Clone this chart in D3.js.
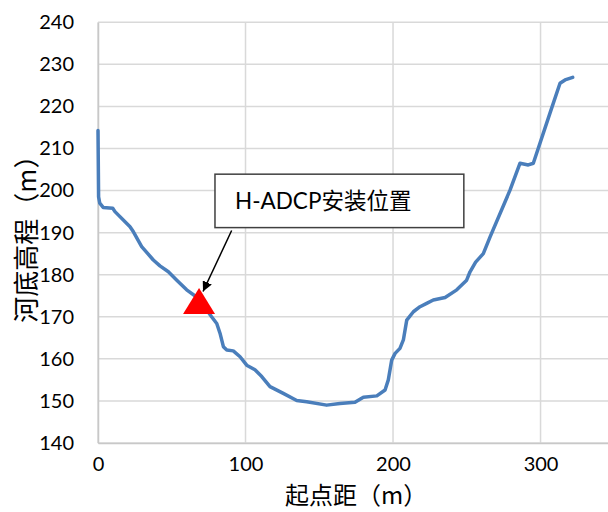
<!DOCTYPE html>
<html>
<head>
<meta charset="utf-8">
<script src="https://cdn.jsdelivr.net/npm/d3@7"></script>
<style>
  html, body { margin: 0; padding: 0; background: #fff; overflow: hidden; }
  svg { display: block; }
</style>
</head>
<body>
<svg id="chart" width="608" height="512"></svg>
<script>
// ---- data ----
const distance = [0, 0.4, 1.2, 3.5, 10, 11.5, 21.7, 24, 29.6, 37.5, 42, 47.7, 53.4, 60.1, 68,
  77, 80.5, 82.7, 85, 87.3, 91.7, 96.3, 100.8, 106.4, 111, 116.6, 125.6, 134.7, 141.5, 155,
  164, 174.2, 179.9, 189, 194.6, 196.8, 199.1, 201.4, 204.7, 207, 209.3, 213.8, 218.3, 222.8,
  227.3, 235.3, 243.2, 249.9, 252.2, 256, 261.2, 265.8, 279.3, 286.1, 291.7, 295.1, 306.4,
  313.2, 316.6, 321.8];
const elevation = [214.3, 198.5, 197.0, 196.0, 195.8, 195.0, 191.4, 190.2, 186.7, 183.5, 182.1,
  180.7, 178.7, 176.4, 174.4, 170.0, 168.4, 166.1, 162.9, 162.1, 161.9, 160.5, 158.5, 157.4,
  155.8, 153.4, 151.8, 150.1, 149.8, 149.0, 149.4, 149.7, 150.9, 151.2, 152.6, 155.0, 159.7,
  161.3, 162.5, 164.5, 169.2, 171.2, 172.4, 173.2, 174.0, 174.6, 176.4, 178.7, 180.7, 183.0,
  185.0, 189.0, 200.1, 206.5, 206.1, 206.5, 218.4, 225.5, 226.3, 226.9];
const markerPoint = [68.5, 172.7];           // H-ADCP position
const annotationText = "H-ADCP安装位置";
const annotationBox = [79.3, 203.9, 248, 191.2];   // x0, yTop, x1, yBottom (data units)
const annotationArrow = [90.6, 190.5, 71.2, 176.0]; // from (x,y) to (x,y)
const xTicks = [0, 100, 200, 300];
const yTicks = [140, 150, 160, 170, 180, 190, 200, 210, 220, 230, 240];
const xTitle = "起点距（m）";
const yTitle = "河底高程（m）";

// ---- layout ----
const svg = d3.select("#chart");
const mLeft = 98, mTop = 22.3, plotH = 420.7, plotW = 516.3;
const x = d3.scaleLinear().domain([0, 350]).range([mLeft, mLeft + plotW]);
const y = d3.scaleLinear().domain([140, 240]).range([mTop + plotH, mTop]);

const tickFont = "Lato, 'Noto Sans CJK SC', sans-serif";
const cjkFont = "'Noto Sans CJK SC', sans-serif";

// gridlines
const grid = svg.append("g");
grid.selectAll("line.h").data(yTicks).join("line")
  .attr("x1", x(0)).attr("x2", x(350))
  .attr("y1", d => y(d)).attr("y2", d => y(d))
  .attr("stroke", "#d9d9d9").attr("stroke-width", 1.5);
grid.selectAll("line.v").data(xTicks.concat([350])).join("line")
  .attr("x1", d => x(d)).attr("x2", d => x(d))
  .attr("y1", y(140)).attr("y2", y(240))
  .attr("stroke", "#d9d9d9").attr("stroke-width", 1.5);

// axes
const yAxis = svg.append("g").attr("transform", `translate(${x(0)},0)`)
  .call(d3.axisLeft(y).tickValues(yTicks).tickSize(0).tickPadding(24).tickFormat(d3.format("d")));
const xAxis = svg.append("g").attr("transform", `translate(0,${y(140)})`)
  .call(d3.axisBottom(x).tickValues(xTicks).tickSize(0).tickPadding(24).tickFormat(d3.format("d")));
[xAxis, yAxis].forEach(a => {
  a.select(".domain").attr("stroke", "#c8c8c8").attr("stroke-width", 1.5);
  a.selectAll("text").attr("font-family", tickFont).attr("font-size", 20).attr("fill", "#000");
});
xAxis.selectAll("text").attr("dy", "0.2em");

// series line
const line = d3.line().x((d, i) => x(distance[i])).y((d, i) => y(elevation[i]));
svg.append("path").datum(elevation)
  .attr("d", line)
  .attr("fill", "none")
  .attr("stroke", "#4a7ebb")
  .attr("stroke-width", 3.5)
  .attr("stroke-linejoin", "round")
  .attr("stroke-linecap", "round");

// marker triangle
const mx = x(markerPoint[0]), my = y(markerPoint[1]);
const tw = 32, th = 26;
svg.append("path")
  .attr("d", `M${mx},${my - th * 2 / 3}L${mx + tw / 2},${my + th / 3}L${mx - tw / 2},${my + th / 3}Z`)
  .attr("fill", "#ff0000");

// annotation arrow
const defs = svg.append("defs");
defs.append("marker").attr("id", "arrow")
  .attr("viewBox", "0 0 10 10").attr("refX", 10).attr("refY", 5)
  .attr("markerWidth", 10).attr("markerHeight", 10).attr("markerUnits", "userSpaceOnUse")
  .attr("orient", "auto")
  .append("path").attr("d", "M0,0L10,5L0,10Z").attr("fill", "#000");
svg.append("line")
  .attr("x1", x(annotationArrow[0])).attr("y1", y(annotationArrow[1]))
  .attr("x2", x(annotationArrow[2])).attr("y2", y(annotationArrow[3]))
  .attr("stroke", "#000").attr("stroke-width", 1.5)
  .attr("marker-end", "url(#arrow)");

// annotation box
const bx0 = x(annotationBox[0]), bx1 = x(annotationBox[2]);
const by0 = y(annotationBox[1]), by1 = y(annotationBox[3]);
svg.append("rect")
  .attr("x", bx0).attr("y", by0).attr("width", bx1 - bx0).attr("height", by1 - by0)
  .attr("fill", "#fff").attr("stroke", "#404040").attr("stroke-width", 1.5);
svg.append("text")
  .attr("x", bx0 + 20).attr("y", (by0 + by1) / 2)
  .attr("dominant-baseline", "central")
  .attr("font-family", tickFont).attr("font-size", 22.5).attr("fill", "#000")
  .text(annotationText);

// axis titles
svg.append("text")
  .attr("x", x(175)).attr("y", 504)
  .attr("text-anchor", "middle")
  .attr("font-family", cjkFont).attr("font-size", 24).attr("fill", "#000")
  .text(xTitle);
svg.append("text")
  .attr("transform", `translate(24,${(y(140) + y(240)) / 2}) rotate(-90)`)
  .attr("text-anchor", "middle").attr("dominant-baseline", "central")
  .attr("font-family", cjkFont).attr("font-size", 26).attr("fill", "#000")
  .text(yTitle);
</script>
</body>
</html>
